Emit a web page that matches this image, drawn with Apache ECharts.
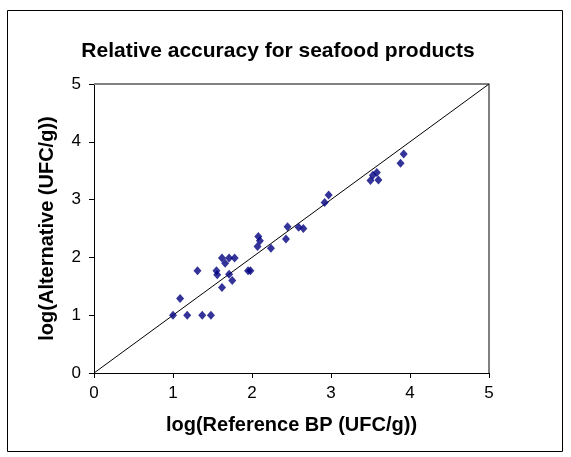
<!DOCTYPE html>
<html>
<head>
<meta charset="utf-8">
<script src="https://cdn.jsdelivr.net/npm/echarts@6/dist/echarts.min.js"></script>
<style>
  html, body { margin: 0; padding: 0; background: #fff; }
  #chart { width: 571px; height: 457px; }
</style>
</head>
<body>
<div id="chart"></div>
<script>
// log(Reference BP) vs log(Alternative)
const refBP = [1.00, 1.18, 1.37, 1.48, 1.09, 1.31, 1.55, 1.56, 1.62, 1.66, 1.71, 1.78, 1.71, 1.75, 1.62,
  1.95, 1.98, 2.07, 2.08, 2.10, 2.24, 2.43, 2.45, 2.59, 2.65, 2.92, 2.97,
  3.50, 3.53, 3.58, 3.60, 3.88, 3.92];
const alternative = [1.00, 1.00, 1.00, 1.00, 1.29, 1.77, 1.77, 1.70, 1.99, 1.90, 1.99, 1.99, 1.71, 1.60, 1.48,
  1.77, 1.77, 2.19, 2.36, 2.29, 2.16, 2.32, 2.53, 2.52, 2.50, 2.95, 3.08,
  3.33, 3.42, 3.47, 3.34, 3.63, 3.79];
const diagonal = [[0, 0], [5, 5]];
const tickLabels = ["0", "1", "2", "3", "4", "5"];

const points = refBP.map((x, i) => [x, alternative[i]]);
const font = "Liberation Sans, Arial, sans-serif";

let myChart = echarts.init(document.getElementById("chart"));
myChart.setOption({
  animation: false,
  grid: { left: 94, right: 82, top: 84, bottom: 84 },
  title: {
    text: "Relative accuracy for seafood products",
    left: 273,
    top: 36,
    textAlign: "center",
    textStyle: { fontFamily: font, fontSize: 21, fontWeight: "bold", color: "#000" },
  },
  graphic: [{
    type: "rect",
    shape: { x: 7.5, y: 10.5, width: 555, height: 441 },
    style: { fill: "none", stroke: "#000", lineWidth: 1 },
    silent: true,
  }],
  xAxis: {
    type: "value",
    min: 0, max: 5, interval: 1,
    name: "log(Reference BP (UFC/g))",
    nameLocation: "middle",
    nameGap: 42,
    nameTextStyle: { fontFamily: font, fontSize: 20, fontWeight: "bold", color: "#000" },
    axisLine: { show: true, lineStyle: { color: "#000", width: 1 } },
    axisTick: { show: true, length: 5, lineStyle: { color: "#000" } },
    axisLabel: {
      margin: 12, fontFamily: font, fontSize: 17, color: "#000",
      formatter: (v) => tickLabels[Math.round(v)],
    },
    splitLine: { show: false },
  },
  yAxis: {
    type: "value",
    min: 0, max: 5, interval: 1,
    name: "log(Alternative (UFC/g))",
    nameLocation: "middle",
    nameGap: 37,
    nameTextStyle: { fontFamily: font, fontSize: 20, fontWeight: "bold", color: "#000" },
    axisLine: { show: true, lineStyle: { color: "#000", width: 1 } },
    axisTick: { show: true, length: 5, lineStyle: { color: "#000" } },
    axisLabel: {
      margin: 13, fontFamily: font, fontSize: 17, color: "#000",
      formatter: (v) => tickLabels[Math.round(v)],
    },
    splitLine: { show: false },
  },
  series: [
    {
      // gray frame top/right of the plot area
      type: "line",
      data: [[0, 5], [5, 5], [5, 0]],
      showSymbol: false,
      silent: true,
      lineStyle: { color: "#808080", width: 2 },
      z: 1,
    },
    {
      type: "line",
      data: diagonal,
      showSymbol: false,
      silent: true,
      lineStyle: { color: "#000", width: 1 },
      z: 2,
    },
    {
      type: "scatter",
      data: points,
      symbol: "diamond",
      symbolSize: [8, 9],
      itemStyle: { color: "#000080" },
      z: 3,
    },
  ],
});
</script>
</body>
</html>
